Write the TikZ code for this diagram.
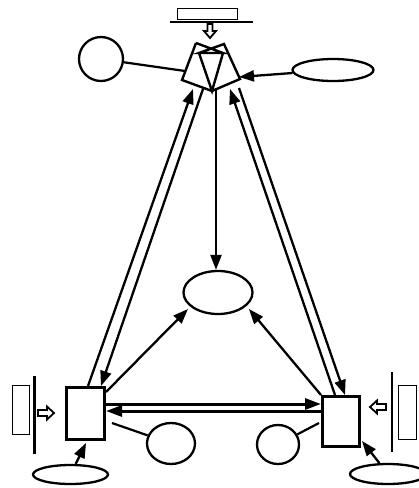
\documentclass[tikz,border=0pt]{standalone}
\usetikzlibrary{arrows.meta,shapes.geometric}
\begin{document}
\begin{tikzpicture}[x=1pt,y=-1pt,
  place/.style={ellipse,draw,line width=2.3pt,inner sep=0pt},
  box/.style={rectangle,draw,line width=3.4pt,inner sep=0pt},
  tile/.style={rectangle,draw,line width=1pt,inner sep=0pt},
  link/.style={line width=2.2pt},
  arc/.style={line width=2.3pt,-{Triangle[length=15pt,width=11pt]}},
  harc/.style={line width=3pt,-{Triangle[length=16pt,width=11pt]}},
  bar/.style={line width=2.8pt},
  hollow/.style={draw,line width=1.8pt,fill=white,line join=miter}]
\useasboundingbox (0,0) rectangle (419,488);

% places and boxes
\node[place,minimum width=44pt,minimum height=44pt] (pa) at (101,59) {};
\node[place,minimum width=81pt,minimum height=22pt] (pb) at (333,70) {};
\node[place,minimum width=69pt,minimum height=43pt] (pm) at (218,292.5) {};
\node[place,minimum width=48pt,minimum height=41pt] (lc) at (171,443.5) {};
\node[place,minimum width=42pt,minimum height=39pt] (rc) at (278,444.5) {};
\node[place,minimum width=75pt,minimum height=19pt] (bl) at (70.5,474.5) {};
\node[place,minimum width=76pt,minimum height=20pt] (br) at (388,474) {};
\node[box,minimum width=38pt,minimum height=52pt] (lbox) at (85.5,413.5) {};
\node[box,minimum width=37pt,minimum height=50pt] (rbox) at (341,421.5) {};

% tiles behind the bars
\node[tile,minimum width=60pt,minimum height=11pt] (ttile) at (207.5,13.5) {};
\node[tile,minimum width=17pt,minimum height=49pt] (ltile) at (20.5,409.5) {};
\node[tile,minimum width=18pt,minimum height=54pt] (rtile) at (407,412) {};

% bars
\draw[bar] (170,22) -- (253,22);
\draw[bar] (34.5,376) -- (34.5,454);
\draw[bar] (392,372) -- (392,452);

% hollow feed arrows
\draw[hollow] (207.5,24) -- (212.5,24) -- (212.5,31) -- (216,31) -- (210,38)
  -- (204,31) -- (207.5,31) -- cycle;
\draw[hollow] (38,410) -- (47,410) -- (47,406.5) -- (54,413) -- (47,419.5)
  -- (47,416) -- (38,416) -- cycle;
\draw[hollow] (386,404) -- (377,404) -- (377,400.5) -- (370,407) -- (377,413.5)
  -- (377,410) -- (386,410) -- cycle;

% funnel
\coordinate (fA) at (196,43);
\coordinate (fB) at (224,44);
\coordinate (fC) at (240,79);
\coordinate (fD) at (212,91);
\coordinate (fE) at (182,80);
\coordinate (fF) at (199,53);
\coordinate (fG) at (223,53);
\draw[line width=2.4pt,line join=miter]
  (fA) -- (fE) -- (fD) -- (fC) -- (fB) -- (fF) -- (fG) -- (fA)
  (fF) -- (fD) -- (fG);

% ports
\coordinate (fin)  at (185,71);
\coordinate (fout) at (239,77);
\coordinate (fbot) at (216,88);
\coordinate (fl1)  at (193,89);
\coordinate (fl2)  at (203,89);
\coordinate (fr1)  at (230,89);
\coordinate (fr2)  at (239,88);
\coordinate (lb1)  at (88,386);
\coordinate (lb2)  at (101,386);
\coordinate (rb1)  at (335,395);
\coordinate (rb2)  at (345,395);
\coordinate (mL)   at (188,309);
\coordinate (mR)   at (249,309);
\coordinate (lbC)  at (106,392);
\coordinate (rbC)  at (321,395);
\coordinate (lbU)  at (106,404);
\coordinate (rbU)  at (321,404);
\coordinate (lbD)  at (106,411);
\coordinate (rbD)  at (321,411);
\coordinate (lbS)  at (112,423);
\coordinate (rbS)  at (319,423);
\coordinate (lbB)  at (86,443);
\coordinate (rbB)  at (362,441);

% connectors
\draw[link] (pa) -- (fin);
\draw[arc] (pb) -- (fout);
\draw[arc] (fbot) -- (fbot |- pm.north);
\draw[arc] (lb1) -- (fl1);
\draw[arc] (fl2) -- (lb2);
\draw[arc] (rb1) -- (fr1);
\draw[arc] (fr2) -- (rb2);
\draw[arc] (lbC) -- (mL);
\draw[arc] (rbC) -- (mR);
\draw[harc] (lbU) -- (rbU);
\draw[harc] (rbD) -- (lbD);
\draw[link] (lc) -- (lbS);
\draw[link] (rc) -- (rbS);
\draw[arc] (bl) -- (lbB);
\draw[arc] (br) -- (rbB);
\end{tikzpicture}
\end{document}
